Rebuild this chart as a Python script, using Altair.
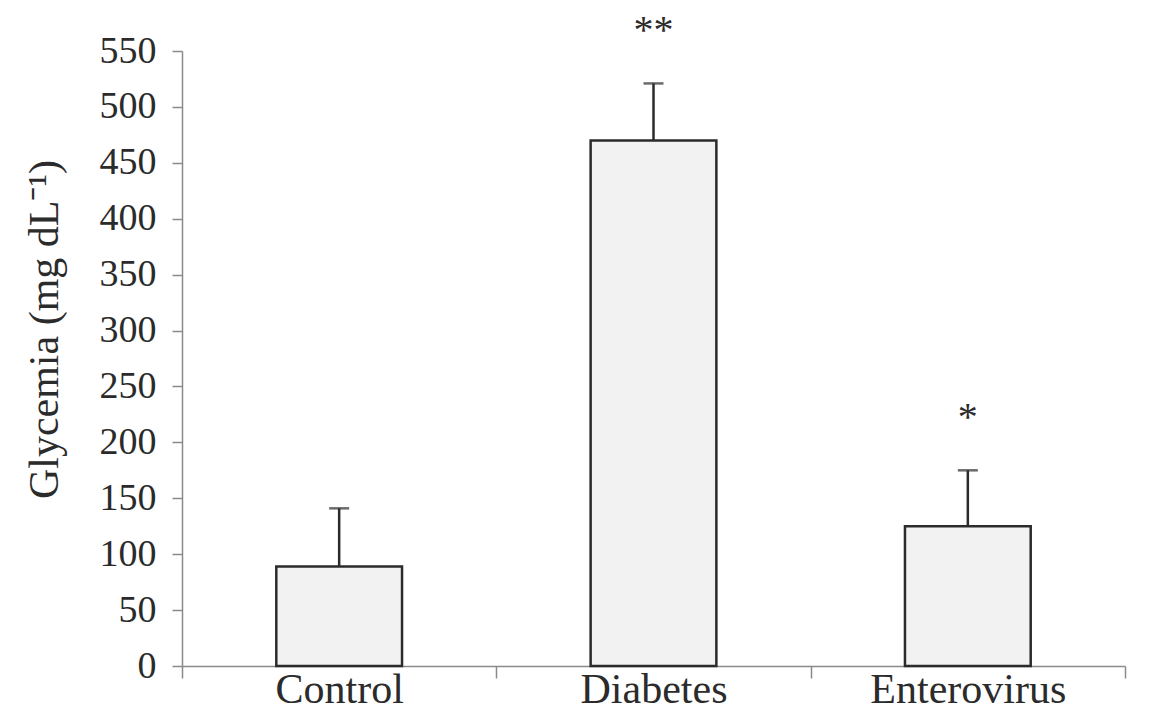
import altair as alt
import pandas as pd

groups = ["Control", "Diabetes", "Enterovirus"]
means = [89, 470, 125]
errors = [52, 51, 50]
signif = ["", "**", "*"]
y_ticks = list(range(0, 551, 50))

df = pd.DataFrame({"group": groups, "mean": means, "err": errors, "sig": signif})
df["upper"] = df["mean"] + df["err"]

FONT = "Liberation Serif"
AXIS_GRAY = "#8a8a8a"
INK = "#2b2b2b"

x_scale = alt.Scale(paddingInner=0, paddingOuter=0)
x_enc = alt.X(
    "group:N",
    sort=groups,
    title=None,
    scale=x_scale,
    axis=alt.Axis(
        labelAngle=0,
        labelLimit=0,
        tickBand="extent",
        tickSize=12,
        tickWidth=1.5,
        tickColor=AXIS_GRAY,
        domainColor=AXIS_GRAY,
        domainWidth=1.5,
        labelFont=FONT,
        labelFontSize=42,
        labelColor=INK,
        labelPadding=-9,
        grid=False,
    ),
)

y_scale = alt.Scale(domain=[0, 550], nice=False)
y_enc = alt.Y(
    "mean:Q",
    scale=y_scale,
    title="Glycemia (mg dL⁻¹)",
    axis=alt.Axis(
        values=y_ticks,
        tickSize=10,
        tickWidth=1.5,
        tickColor=AXIS_GRAY,
        domainColor=AXIS_GRAY,
        domainWidth=1.5,
        labelFont=FONT,
        labelFontSize=38,
        labelColor=INK,
        labelPadding=16,
        titleFont=FONT,
        titleFontSize=42,
        titleFontWeight="normal",
        titleColor=INK,
        titleX=-116,
        titleY=278,
        titleAlign="center",
        titleBaseline="bottom",
        titleAngle=-90,
        grid=False,
    ),
)

base = alt.Chart(df)

bars = base.mark_bar(
    fill="#f2f2f2", stroke=INK, strokeWidth=2.5, width=alt.RelativeBandSize(0.4)
).encode(x=x_enc, y=y_enc)

err_line = base.mark_rule(color=INK, strokeWidth=2.5).encode(
    x=alt.X("group:N", sort=groups, scale=x_scale),
    y=alt.Y("mean:Q", scale=y_scale),
    y2="upper:Q",
)

err_cap = base.mark_tick(color=INK, thickness=2.5, size=20, orient="horizontal").encode(
    x=alt.X("group:N", sort=groups, scale=x_scale),
    y=alt.Y("upper:Q", scale=y_scale),
)

stars = base.mark_text(
    font=FONT, fontSize=40, color=INK, baseline="middle", dy=-52
).encode(
    x=alt.X("group:N", sort=groups, scale=x_scale),
    y=alt.Y("upper:Q", scale=y_scale),
    text="sig:N",
)

chart = (
    alt.layer(bars, err_line, err_cap, stars)
    .properties(
        width=943,
        height=615,
        background="white",
        padding={"left": 174, "top": 43, "right": 17, "bottom": 54},
        autosize=alt.AutoSizeParams(type="none"),
    )
    .configure_view(stroke=None, strokeWidth=0)
)

chart.save("out.html", embed_options={"renderer": "svg", "actions": False})
